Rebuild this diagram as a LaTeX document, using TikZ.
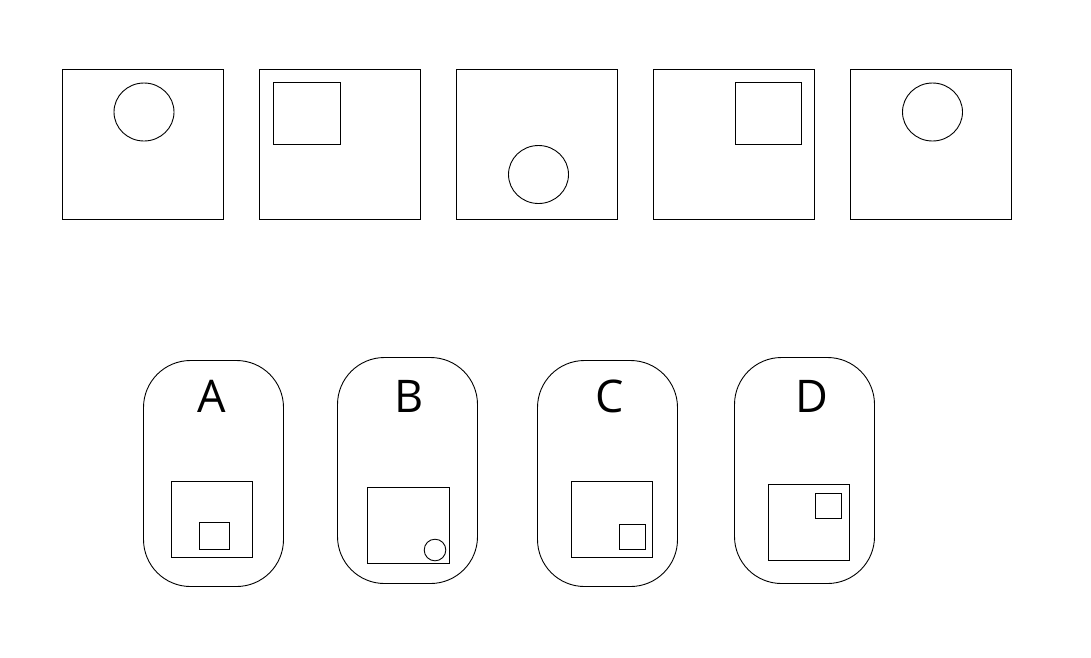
\documentclass[tikz,border=0pt]{standalone}
\usepackage{fontspec}
\setmainfont{Open Sans}
\begin{document}
\begin{tikzpicture}[x=1pt,y=-1pt,line width=0.9pt,
  frame/.style={draw=black},
  capsule/.style={draw=black,rounded corners=47pt},
  lbl/.style={font=\fontsize{45}{45}\selectfont,anchor=base,inner sep=0pt}]
\useasboundingbox[fill=white] (0,0) rectangle (1091,657);
% top row
\draw[frame] (62,69) rectangle (223,219);
\draw[frame] (144,112) ellipse [x radius=30,y radius=29];
\draw[frame] (259,69) rectangle (420,219);
\draw[frame] (273,82) rectangle (340,144);
\draw[frame] (456,69) rectangle (617,219);
\draw[frame] (538.5,174.5) ellipse [x radius=30,y radius=29];
\draw[frame] (653,69) rectangle (814,219);
\draw[frame] (735,82) rectangle (801,144);
\draw[frame] (850,69) rectangle (1011,219);
\draw[frame] (932.5,112) ellipse [x radius=30,y radius=29];
% options
\draw[capsule] (143.5,360.5) rectangle (283.5,586.5);
\node[lbl] (la) at (211.3,412.7) {A};
\draw[frame] (171.5,481.5) rectangle (252.5,557.5);
\draw[frame] (199.5,522.5) rectangle (229.5,549.5);

\draw[capsule] (337.5,357.5) rectangle (477.5,583.5);
\node[lbl] (lb) at (408.7,412.7) {B};
\draw[frame] (367.5,487.5) rectangle (449.5,563.5);
\draw[frame] (435,550) circle (10.8);

\draw[capsule] (537.5,360.5) rectangle (677.5,586.5);
\node[lbl] (lc) at (610,412.7) {C};
\draw[frame] (571.5,481.5) rectangle (652.5,557.5);
\draw[frame] (619.5,524.5) rectangle (645.5,549.5);

\draw[capsule] (734.5,357.5) rectangle (874.5,583.5);
\node[lbl] (ld) at (811.7,412.7) {D};
\draw[frame] (768.5,484.5) rectangle (849.5,560.5);
\draw[frame] (815.5,493.5) rectangle (841.5,518.5);
\end{tikzpicture}
\end{document}
